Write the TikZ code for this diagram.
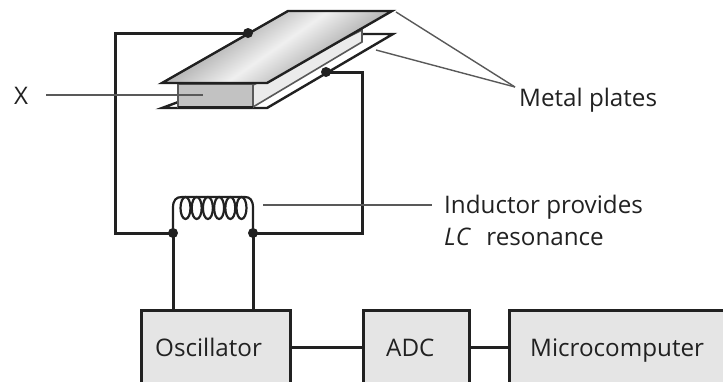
\documentclass[tikz,border=0pt]{standalone}
\usepackage{fontspec}
\setmainfont{Open Sans}
\definecolor{ink}{gray}{0.13}
\definecolor{boxfill}{gray}{0.9}
\tikzset{
  x=1pt,y=-1pt,
  wire/.style={draw=ink,line width=3pt,line join=miter},
  plate/.style={draw=ink,line width=2.4pt,line join=miter},
  pointer/.style={draw=ink!75,line width=1.4pt},
  blockbox/.style={draw=ink,line width=2.8pt,fill=boxfill,minimum height=80pt,anchor=north west,inner sep=0pt,text=ink},
  lbl/.style={inner sep=0pt,anchor=base west,text=ink,font=\fontsize{24.2}{27}\selectfont},
  dot/.style={circle,fill=ink,inner sep=0pt,minimum size=10pt}
}
\begin{document}
\begin{tikzpicture}
\useasboundingbox (0,0) rectangle (723,381);
% bottom plate
\filldraw[plate,fill=white] (162,108) -- (267,108) -- (393,34) -- (363,34) -- cycle;
% spacer
\filldraw[draw=ink!75,line width=1.6pt,fill=black!8] (253,85) -- (362,30) -- (362,42) -- (253,107) -- cycle;
\filldraw[draw=ink!75,line width=1.8pt,fill=black!24] (178,84) rectangle (253,107);
\draw[draw=ink,line width=2.4pt] (178,107) -- (253,107);
% top plate
\shade[top color=black!50,bottom color=black!50,middle color=black!6,shading angle=35] (288,11) -- (392,11) -- (267,83) -- (162,83) -- cycle;
\draw[plate] (288,11) -- (392,11) -- (267,83) -- (162,83) -- cycle;
% junctions
\node[dot] (tp) at (248,33) {};
\node[dot] (bp) at (326,72) {};
\node[dot] (jl) at (173,233) {};
\node[dot] (jr) at (253,233) {};
% blocks
\node[blockbox,minimum width=149pt] (osc) at (140,309) {};
\node[blockbox,minimum width=106pt] (adc) at (362,309) {};
\node[blockbox,minimum width=216pt] (mc) at (508,309) {};
\node[lbl] (osct) at (155,356) {Oscillator};
\node[lbl] (adct) at (386,356) {ADC};
\node[lbl] (mct) at (530,356) {Microcomputer};
% wires
\coordinate (c1) at (115,33);
\coordinate (c2) at (115,233);
\coordinate (c3) at (362,72);
\coordinate (c4) at (362,233);
\draw[wire] (tp.center) -- (c1) -- (c2) -- (jl.center);
\draw[wire] (bp.center) -- (c3) -- (c4) -- (jr.center);
\draw[wire] (jl.center) -- (jl.center |- osc.north);
\draw[wire] (jr.center) -- (jr.center |- osc.north);
\draw[wire] (osc.east |- 0,347) -- (adc.west |- 0,347);
\draw[wire] (adc.east |- 0,347) -- (mc.west |- 0,347);
% coil
\draw[draw=ink,line width=2.2pt] (173,233) -- (173,208) .. controls (173,200) and (176,197) .. (182,197)
  -- (245,197) .. controls (250,197) and (253,200) .. (253,208) -- (253,233);
\foreach \cx in {185.5,196.7,207.9,219.1,230.3,241.5}
  \draw[draw=ink,line width=2.2pt] (\cx,208) ellipse [x radius=5,y radius=11];
% labels
\node[lbl] (xt) at (14,104) {X};
\node[lbl] (mp) at (519,106) {Metal plates};
\node[lbl] (ind1) at (444,213) {Inductor provides};
\node[lbl] (ind2) at (444,245) {\textit{LC}\hspace{9pt} resonance};
% pointers
\coordinate (p1) at (46,95);
\coordinate (p2) at (203,95);
\coordinate (p3) at (396,12);
\coordinate (p4) at (376,50);
\coordinate (p5) at (515,87);
\coordinate (p6) at (263,205);
\coordinate (p7) at (432,205);
\draw[pointer] (p1) -- (p2);
\draw[pointer] (p3) -- (p5);
\draw[pointer] (p4) -- (p5);
\draw[pointer] (p6) -- (p7);
\end{tikzpicture}
\end{document}
